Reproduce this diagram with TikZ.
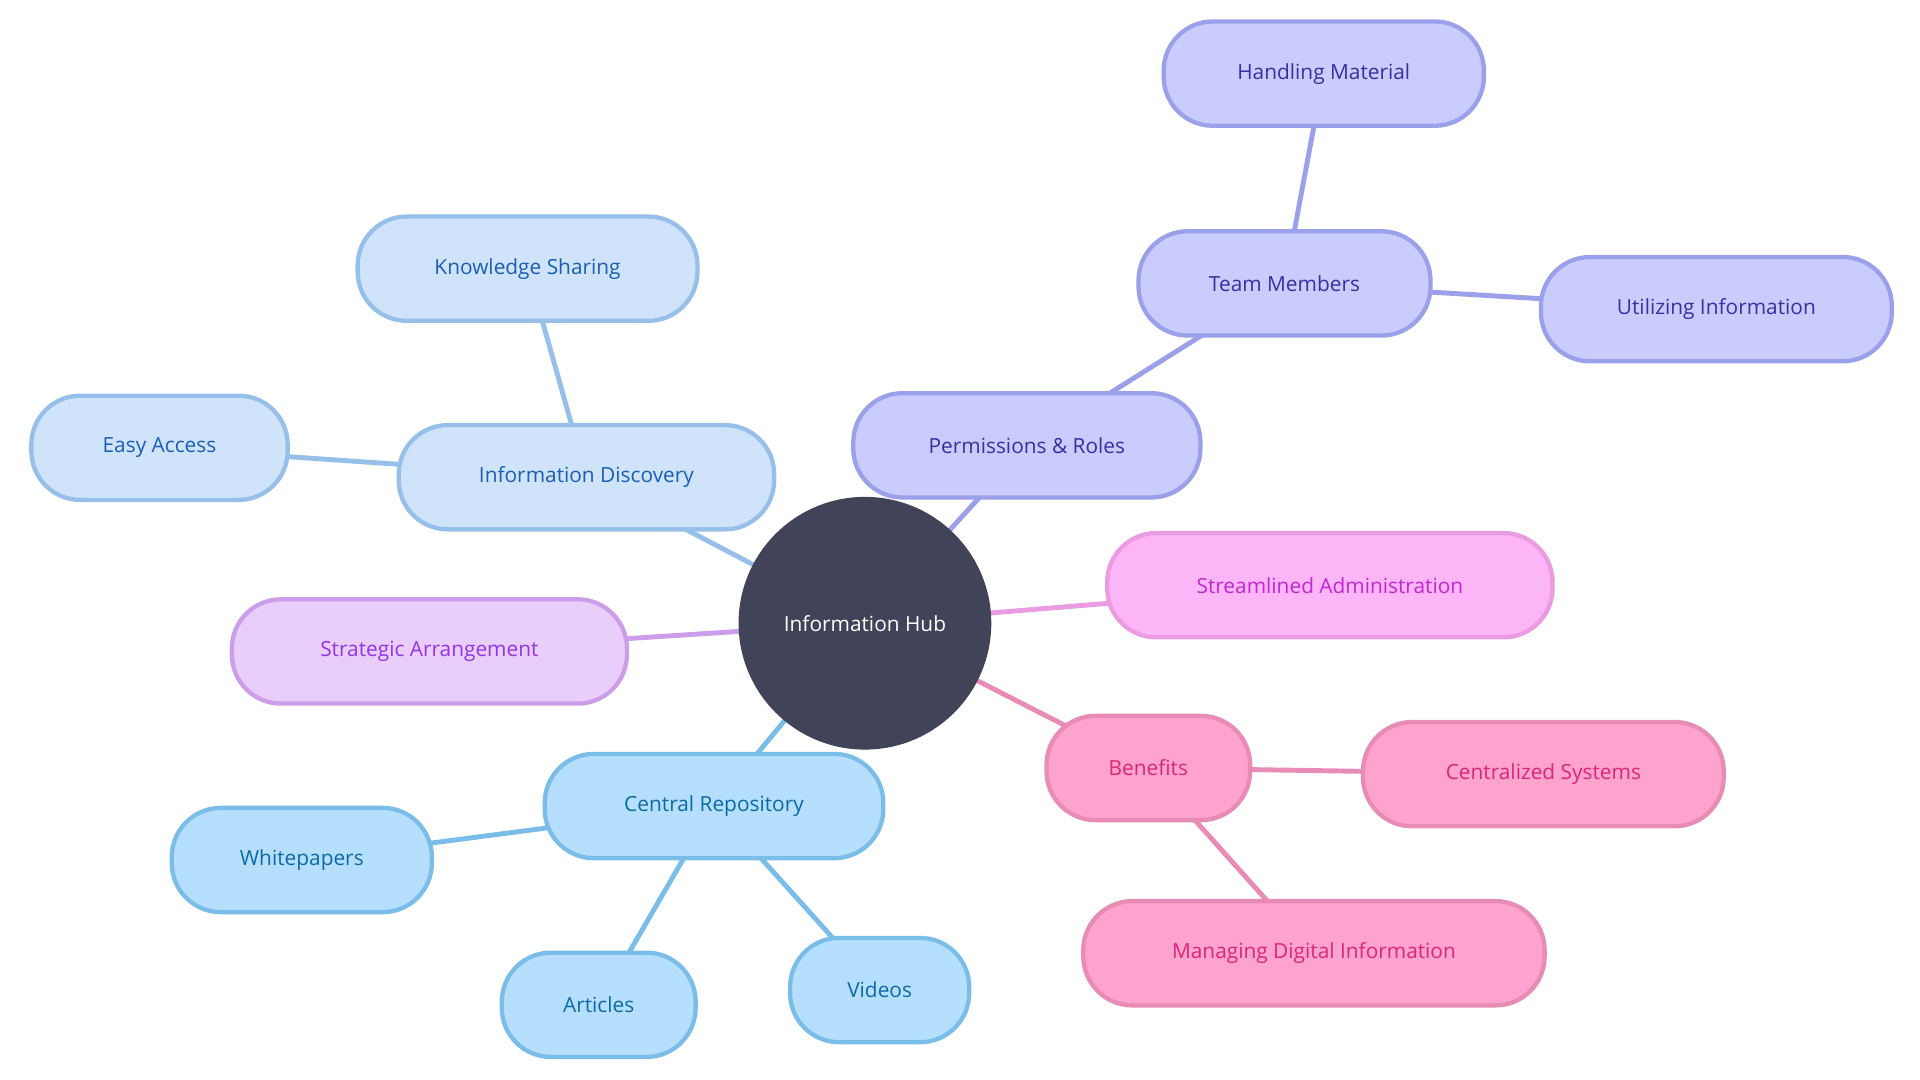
\documentclass[tikz,border=0pt]{standalone}
\usepackage{fontspec}
\setmainfont{Open Sans}
\usetikzlibrary{backgrounds}
\definecolor{bF}{HTML}{CFE3FA}\definecolor{bS}{HTML}{96C0EA}\definecolor{bT}{HTML}{1A5FB4}
\definecolor{cF}{HTML}{B5DFFC}\definecolor{cS}{HTML}{7BBDE9}\definecolor{cT}{HTML}{0B6AA8}
\definecolor{pF}{HTML}{C9CCFD}\definecolor{pS}{HTML}{9AA0EA}\definecolor{pT}{HTML}{3730A3}
\definecolor{sF}{HTML}{E9CDFB}\definecolor{sS}{HTML}{CC9EE9}\definecolor{sT}{HTML}{9333EA}
\definecolor{mF}{HTML}{FCB5F7}\definecolor{mS}{HTML}{EA9BE2}\definecolor{mT}{HTML}{C026D3}
\definecolor{rF}{HTML}{FDA3CD}\definecolor{rS}{HTML}{E88BB5}\definecolor{rT}{HTML}{DB2777}
\definecolor{hub}{HTML}{414459}
\tikzset{
 box/.style={rounded corners=40pt,line width=3.5pt,minimum height=85pt,inner sep=0pt,font=\fontsize{17}{20}\selectfont},
 B/.style={box,fill=bF,draw=bS,text=bT},
 C/.style={box,fill=cF,draw=cS,text=cT},
 P/.style={box,fill=pF,draw=pS,text=pT},
 S/.style={box,fill=sF,draw=sS,text=sT},
 M/.style={box,fill=mF,draw=mS,text=mT},
 R/.style={box,fill=rF,draw=rS,text=rT},
 e/.style={line width=4pt},
}
\begin{document}
\begin{tikzpicture}[x=1pt,y=-1pt]
\useasboundingbox (0,0) rectangle (1565,880);
\node[circle,fill=hub,minimum size=206pt,inner sep=0pt,text=white,font=\fontsize{17}{20}\selectfont] (hub) at (705,508) {Information Hub};
\node[B,minimum width=306pt] (id) at (478,389) {Information Discovery};
\node[B,minimum width=277pt] (ks) at (430,219) {Knowledge Sharing};
\node[B,minimum width=209pt] (ea) at (130,365) {Easy Access};
\node[S,minimum width=322pt] (sa) at (350,531) {Strategic Arrangement};
\node[C,minimum width=276pt] (cr) at (582,657) {Central Repository};
\node[C,minimum width=212pt] (wp) at (246,701) {Whitepapers};
\node[C,minimum width=158pt] (ar) at (488,819) {Articles};
\node[C,minimum width=146pt] (vi) at (717,807) {Videos};
\node[P,minimum width=283pt] (pr) at (837,363) {Permissions \& Roles};
\node[P,minimum width=238pt] (tm) at (1047,231) {Team Members};
\node[P,minimum width=261pt] (hm) at (1079,60) {Handling Material};
\node[P,minimum width=286pt] (ui) at (1399,252) {Utilizing Information};
\node[M,minimum width=363pt] (st) at (1084,477) {Streamlined Administration};
\node[R,minimum width=166pt] (be) at (936,626) {Benefits};
\node[R,minimum width=294pt] (cs) at (1258,631) {Centralized Systems};
\node[R,minimum width=376pt] (md) at (1071,777) {Managing Digital Information};
\begin{scope}[on background layer]
\draw[e,bS] (hub.center)--(id.center) (id.center)--(ks.center) (id.center)--(ea.center);
\draw[e,sS] (hub.center)--(sa.center);
\draw[e,cS] (hub.center)--(cr.center) (cr.center)--(wp.center) (cr.center)--(ar.center) (cr.center)--(vi.center);
\draw[e,pS] (hub.center)--(pr.center) (pr.center)--(tm.center) (tm.center)--(hm.center) (tm.center)--(ui.center);
\draw[e,mS] (hub.center)--(st.center);
\draw[e,rS] (hub.center)--(be.center) (be.center)--(cs.center) (be.center)--(md.center);
\end{scope}
\end{tikzpicture}
\end{document}
